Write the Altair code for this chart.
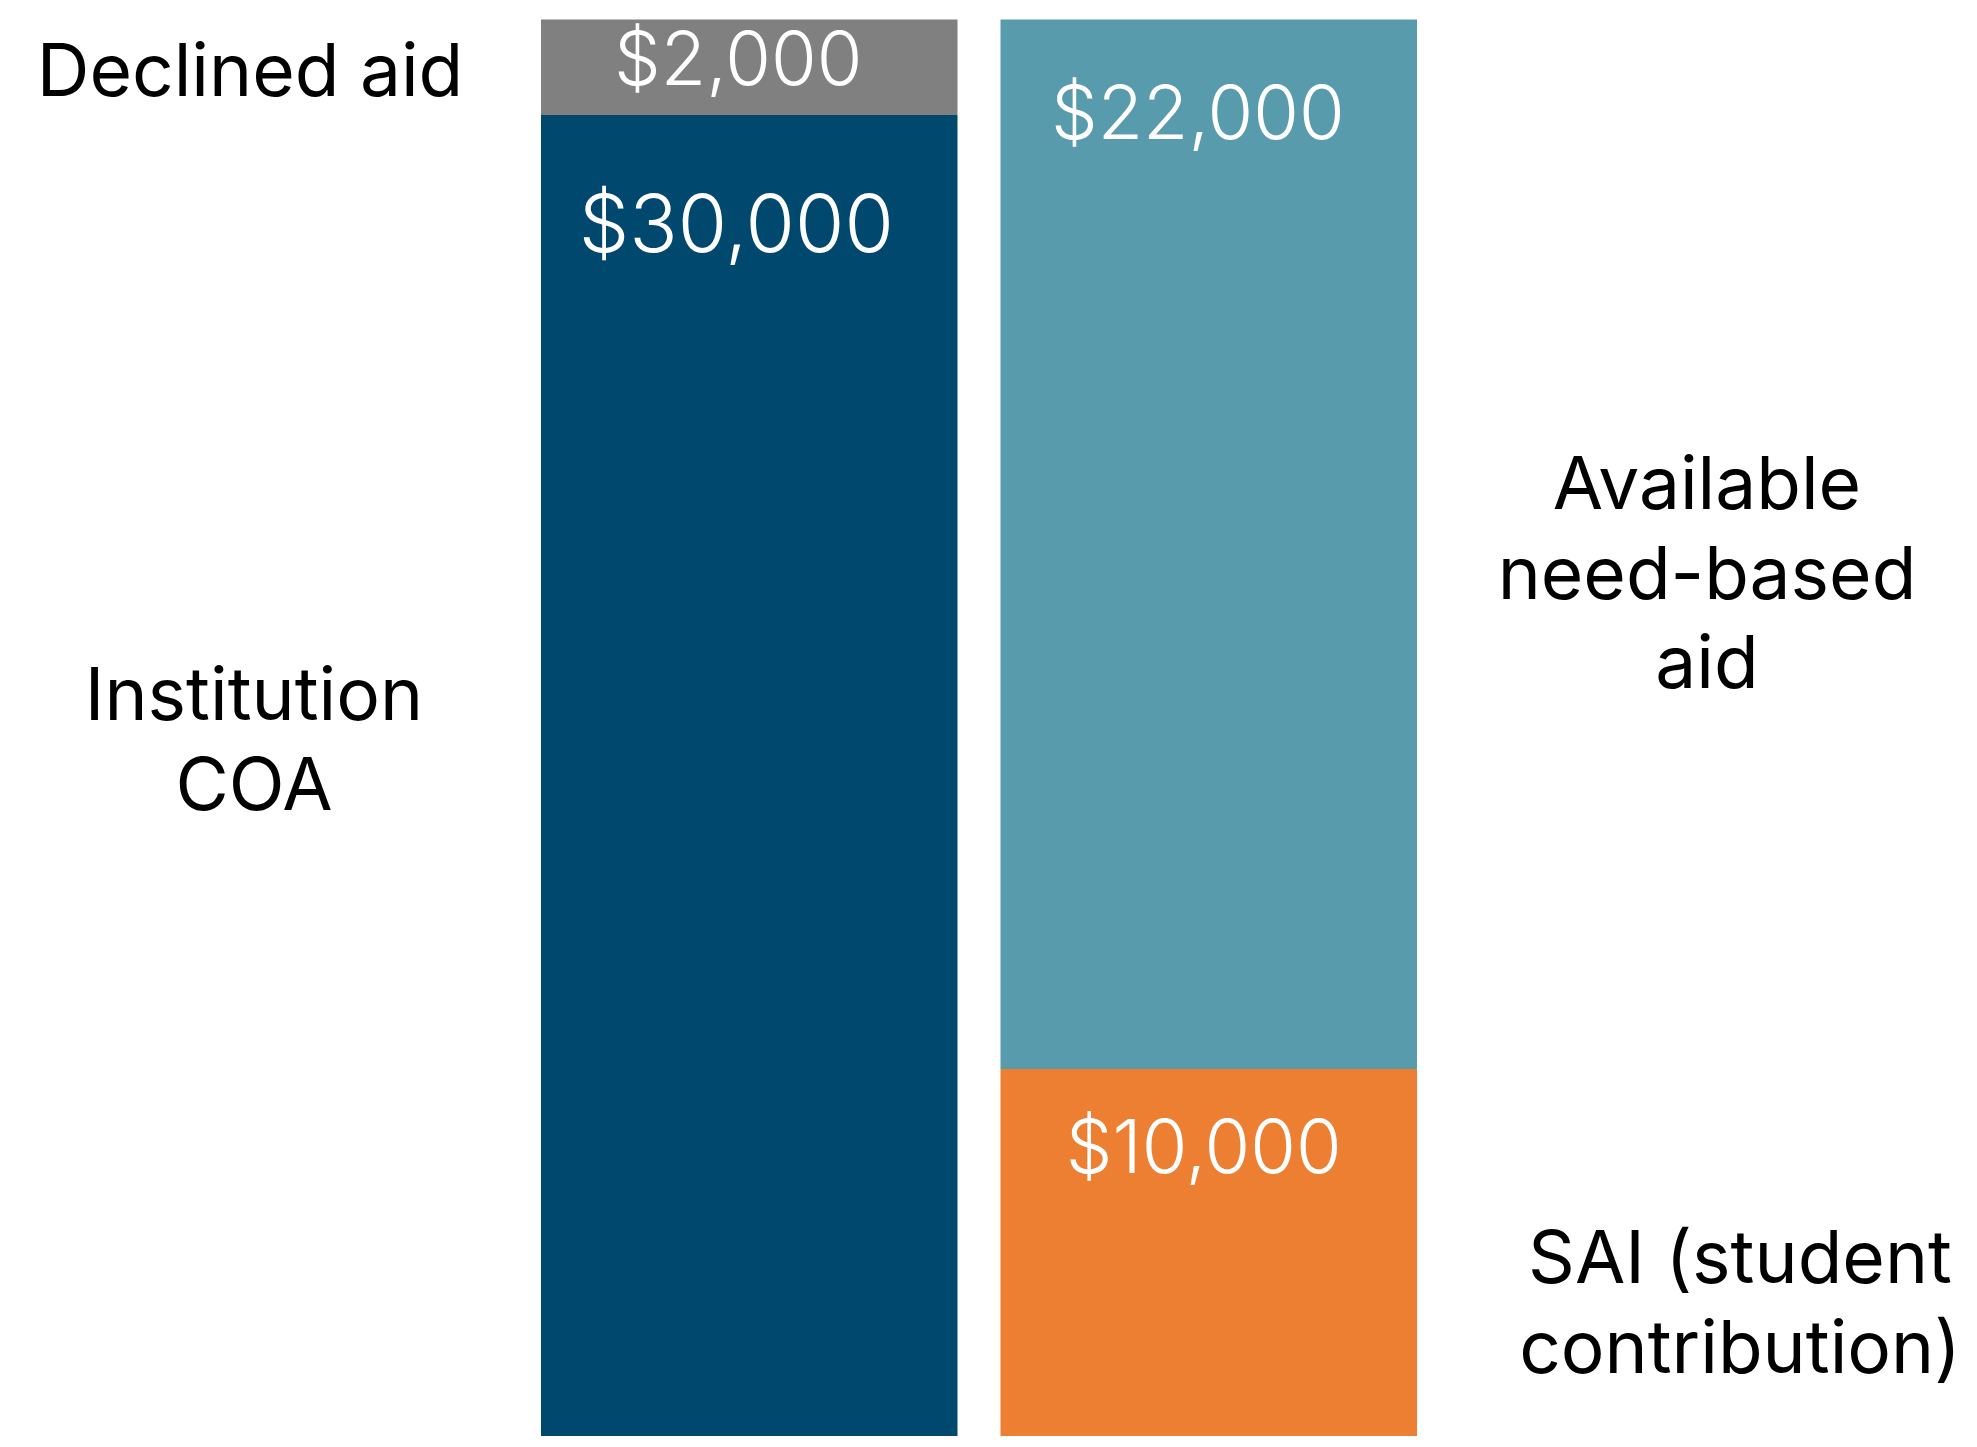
import altair as alt
import pandas as pd

# ---- data ----
bars = ["COA", "COA", "Aid", "Aid"]
segments = ["Institution COA", "Declined aid", "SAI (student contribution)", "Available need-based aid"]
values = [30000, 2000, 10000, 22000]
value_labels = ["$30,000", "$2,000", "$10,000", "$22,000"]
colors = ["#00486E", "#808080", "#ED7F33", "#579BAD"]

df = pd.DataFrame({"bar": bars, "segment": segments, "value": values, "label": value_labels})
df["y1"] = df.groupby("bar")["value"].cumsum()
df["y0"] = df["y1"] - df["value"]

W, H = 1961, 1428
FONT = "Inter"

xscale = alt.Scale(domain=["COA", "Aid"], range=[533, 1409], paddingInner=0.0936, paddingOuter=0)
yscale = alt.Scale(domain=[2306, 32243], nice=False, zero=False)

base = alt.Chart(df)

rects = base.mark_bar(clip=True).encode(
    x=alt.X("bar:N", scale=xscale, axis=None),
    y=alt.Y("y0:Q", scale=yscale, axis=None),
    y2="y1:Q",
    color=alt.Color("segment:N", scale=alt.Scale(domain=segments, range=colors), legend=None),
)

# value labels placed near the top of each segment: (dx, dy, font size)
offsets = {"$30,000": (-13, 137, 80), "$2,000": (-11, 65, 74), "$10,000": (-5, 104, 74), "$22,000": (-11, 119, 74)}
value_layers = []
for lab, (dx, dy, fs) in offsets.items():
    value_layers.append(
        base.transform_filter(alt.datum.label == lab).mark_text(
            font=FONT, fontSize=fs, fontWeight=300, color="white",
            align="center", baseline="alphabetic", dx=dx, dy=dy,
        ).encode(
            x=alt.X("bar:N", scale=xscale, axis=None),
            y=alt.Y("y1:Q", scale=yscale, axis=None),
            text="label:N",
        )
    )

# side annotations
annotations = [
    (["Declined aid"], 242, 88),
    (["Institution", "COA"], 246, 712),
    (["Available", "need-based", "aid"], 1699, 501),
    (["SAI (student", "contribution)"], 1732, 1275),
]
ann_layers = []
for lines, ax, ay in annotations:
    ann_layers.append(
        alt.Chart(pd.DataFrame({"t": [lines]})).mark_text(
            font=FONT, fontSize=73, color="black", align="center",
            baseline="alphabetic", lineHeight=89.5,
        ).encode(x=alt.value(ax), y=alt.value(ay), text="t")
    )

chart = alt.layer(rects, *value_layers, *ann_layers).properties(
    width=W, height=H, padding=0, autosize=alt.AutoSizeParams(type="none"),
).configure_view(stroke=None)

chart.save("out.html", embed_options={"renderer": "svg", "actions": False})
